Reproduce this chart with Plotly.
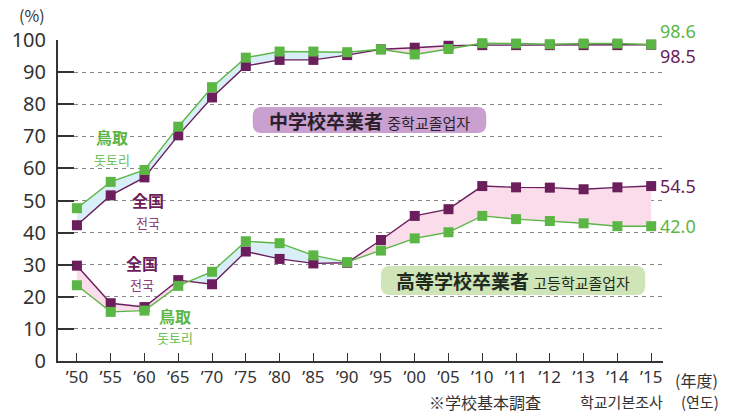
import plotly.graph_objects as go

# ---------------- data ----------------
years = ["’50", "’55", "’60", "’65", "’70", "’75", "’80", "’85", "’90", "’95",
         "’00", "’05", "’10", "’11", "’12", "’13", "’14", "’15"]
y_ticks = [0, 10, 20, 30, 40, 50, 60, 70, 80, 90, 100]

# 中学校卒業者 (junior high graduates -> progression rate)
jh_national = [42.3, 51.6, 57.2, 70.3, 82.1, 91.9, 93.8, 93.8, 95.3, 97.1,
               97.6, 98.2, 98.4, 98.4, 98.4, 98.4, 98.4, 98.5]
jh_tottori = [47.6, 55.8, 59.5, 73.0, 85.3, 94.5, 96.4, 96.4, 96.2, 97.1,
              95.5, 97.2, 99.0, 98.9, 98.7, 98.9, 98.9, 98.6]

# 高等学校卒業者 (high school graduates -> progression rate)
hs_national = [29.7, 18.0, 16.8, 25.2, 23.9, 34.1, 31.8, 30.4, 30.6, 37.7,
               45.2, 47.3, 54.5, 54.1, 54.0, 53.5, 54.1, 54.5]
hs_tottori = [23.6, 15.3, 15.7, 23.4, 27.8, 37.3, 36.7, 32.9, 30.8, 34.4,
              38.2, 40.1, 45.2, 44.2, 43.6, 42.9, 42.0, 42.0]

# ---------------- style ----------------
GREEN = "#5cb646"
PURPLE = "#6b1d5c"
BLUE_FILL = "#d9eff8"
PINK_FILL = "#fbdcea"
CJK = "Noto Sans CJK JP, Noto Sans CJK KR, sans-serif"
NUM = "Noto Sans, Open Sans, sans-serif"

xs = list(range(len(years)))


def band_polys(a, b):
    """polygons between series a (tottori) and b (national), split by sign."""
    pos_x, pos_y, neg_x, neg_y = [], [], [], []

    def add(px, py, positive):
        tx, ty = (pos_x, pos_y) if positive else (neg_x, neg_y)
        tx.extend(px + [px[0], None])
        ty.extend(py + [py[0], None])

    for i in range(len(a) - 1):
        d0 = a[i] - b[i]
        d1 = a[i + 1] - b[i + 1]
        if d0 * d1 >= 0:
            add([xs[i], xs[i + 1], xs[i + 1], xs[i]],
                [a[i], a[i + 1], b[i + 1], b[i]], (d0 + d1) >= 0)
        else:
            t = d0 / (d0 - d1)
            xc = xs[i] + t * (xs[i + 1] - xs[i])
            yc = a[i] + t * (a[i + 1] - a[i])
            add([xs[i], xc, xs[i]], [a[i], yc, b[i]], d0 > 0)
            add([xc, xs[i + 1], xs[i + 1]], [yc, a[i + 1], b[i + 1]], d1 > 0)
    return pos_x, pos_y, neg_x, neg_y


fig = go.Figure()

for tot, nat in [(jh_tottori, jh_national), (hs_tottori, hs_national)]:
    px_, py_, nx_, ny_ = band_polys(tot, nat)
    if px_:
        fig.add_trace(go.Scatter(x=px_, y=py_, mode="lines", fill="toself",
                                 fillcolor=BLUE_FILL, line=dict(width=0),
                                 hoverinfo="skip", showlegend=False))
    if nx_:
        fig.add_trace(go.Scatter(x=nx_, y=ny_, mode="lines", fill="toself",
                                 fillcolor=PINK_FILL, line=dict(width=0),
                                 hoverinfo="skip", showlegend=False))

for series, color in [(jh_national, PURPLE), (jh_tottori, GREEN),
                      (hs_national, PURPLE), (hs_tottori, GREEN)]:
    fig.add_trace(go.Scatter(
        x=xs, y=series, mode="lines+markers",
        line=dict(color=color, width=1.4),
        marker=dict(symbol="square", size=10, color=color, line=dict(width=0)),
        cliponaxis=False, showlegend=False))


# pixel -> data helper for label placement
def P(px, py):
    return (px - 73) / 34.0, (361 - py) / 3.21


def rounded_rect(x0p, y0p, x1p, y1p, r=9):
    path = (f"M {x0p + r} {y0p} L {x1p - r} {y0p} Q {x1p} {y0p} {x1p} {y0p + r} "
            f"L {x1p} {y1p - r} Q {x1p} {y1p} {x1p - r} {y1p} "
            f"L {x0p + r} {y1p} Q {x0p} {y1p} {x0p} {y1p - r} "
            f"L {x0p} {y0p + r} Q {x0p} {y0p} {x0p + r} {y0p} Z")
    toks = path.split()
    out = []
    i = 0
    while i < len(toks):
        t = toks[i]
        if t in ("M", "L", "Q", "Z"):
            out.append(t)
            i += 1
        else:
            dx, dy = P(float(toks[i]), float(toks[i + 1]))
            out.append(f"{dx:.4f},{dy:.4f}")
            i += 2
    return " ".join(out)


shapes = [
    dict(type="path", xref="x", yref="y", path=rounded_rect(250, 107, 485, 133),
         fillcolor="#c9a0cf", line=dict(width=0), layer="above"),
    dict(type="path", xref="x", yref="y", path=rounded_rect(379, 266, 645, 295),
         fillcolor="#cfe5b7", line=dict(width=0), layer="above"),
]

ann = []


def label(px, py, text, size, color, bold=False, xanchor="center"):
    x, y = P(px, py)
    ann.append(dict(x=x, y=y, xref="x", yref="y", text=(f"<b>{text}</b>" if bold else text),
                    showarrow=False, xanchor=xanchor, yanchor="middle",
                    font=dict(family=CJK, size=size, color=color)))


label(367, 120, "<b>中学校卒業者</b> <span style='font-size:15px'>중학교졸업자</span>", 19, "#2a1f2a")
label(512, 280, "<b>高等学校卒業者</b> <span style='font-size:15px'>고등학교졸업자</span>", 19, "#1f2a1f")

label(108, 137, "鳥取", 16, GREEN, bold=True)
label(108, 159, "돗토리", 13, "#6cbf55")
label(145, 200, "全国", 16, PURPLE, bold=True)
label(145, 222, "전국", 13, "#8a3a7d")
label(138, 263, "全国", 16, PURPLE, bold=True)
label(138, 284, "전국", 13, "#8a3a7d")
label(172, 316, "鳥取", 16, GREEN, bold=True)
label(172, 337, "돗토리", 13, "#6cbf55")

# end-value labels
for val, color, ys in [(jh_tottori[-1], GREEN, 13), (jh_national[-1], PURPLE, -11),
                       (hs_national[-1], PURPLE, 0), (hs_tottori[-1], GREEN, 0)]:
    ann.append(dict(x=xs[-1], y=val, xref="x", yref="y", text=f"{val:.1f}",
                    showarrow=False, xanchor="left", yanchor="middle",
                    xshift=7, yshift=ys,
                    font=dict(family=NUM, size=18, color=color)))

W, H = 737, 414
L, R, T, B = 54, 74, 40, 53


def paper(px, py):
    return (px - L) / (W - L - R), (H - B - py) / (H - T - B)


def olabel(px, py, text, size, color="#333", xanchor="center"):
    x, y = paper(px, py)
    ann.append(dict(x=x, y=y, xref="paper", yref="paper", text=text,
                    showarrow=False, xanchor=xanchor, yanchor="middle",
                    font=dict(family=CJK, size=size, color=color)))


olabel(28, 15, "(%)", 16)
olabel(697, 380, "(年度)", 16)
olabel(700, 402, "(연도)", 15)
olabel(425, 402, "※学校基本調査", 16, xanchor="left")
olabel(577, 402, "학교기본조사", 15, xanchor="left")

fig.update_layout(
    width=W, height=H,
    margin=dict(l=L, r=R, t=T, b=B),
    plot_bgcolor="white", paper_bgcolor="white",
    shapes=shapes, annotations=ann,
    xaxis=dict(range=[-0.56, 17.35], tickmode="array", tickvals=xs, ticktext=years,
               showgrid=False, zeroline=False, showline=True, linecolor="#333",
               linewidth=1.5, ticks="inside", ticklen=8, tickwidth=1.3,
               tickcolor="#333", tickfont=dict(family=NUM, size=17, color="#333")),
    yaxis=dict(range=[0, 100], tickmode="array", tickvals=y_ticks,
               ticktext=[str(v) for v in y_ticks],
               showgrid=True, gridcolor="#8a8a8a", griddash="4px,4px", gridwidth=1,
               zeroline=False, showline=True, linecolor="#333", linewidth=2,
               ticks="inside", ticklen=16, tickwidth=2, tickcolor="#333",
               ticklabelstandoff=6,
               tickfont=dict(family=NUM, size=20, color="#333")),
)

fig.write_html("out.html", config={"displayModeBar": False},
               post_script="document.body.style.margin='0';document.body.style.overflow='hidden';")
